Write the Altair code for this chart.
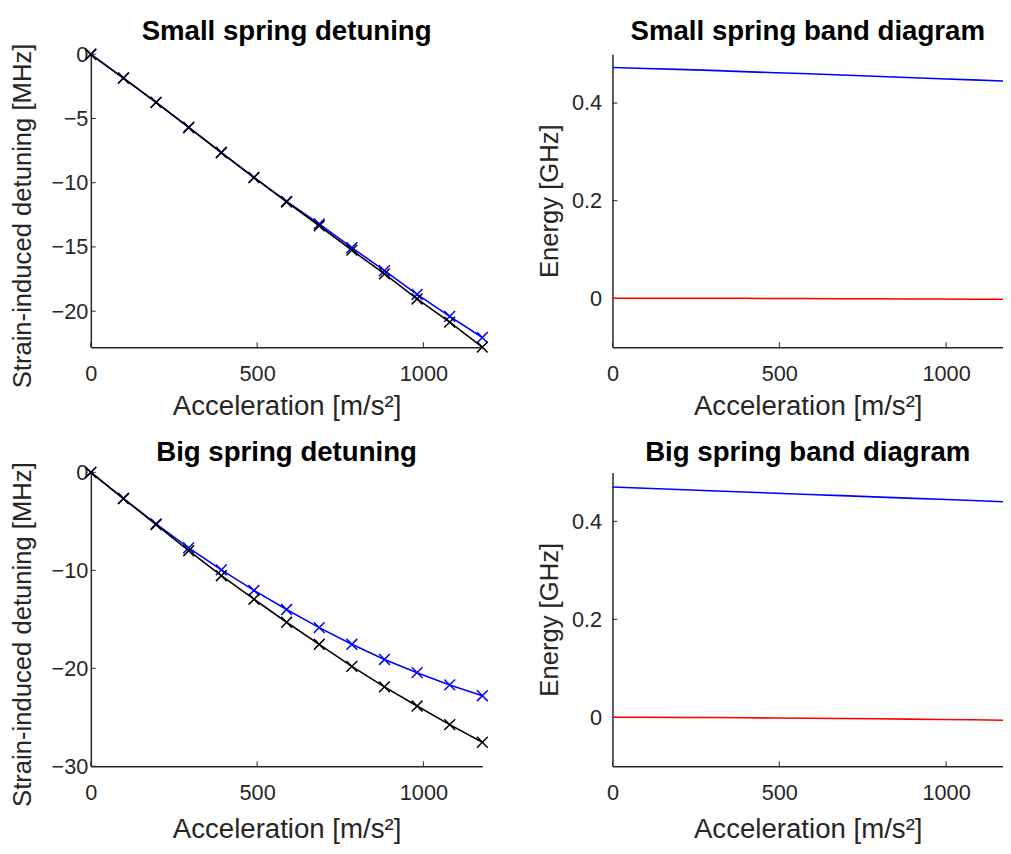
import altair as alt
import pandas as pd

# ---------------- data ----------------
accel = [0.0, 98.1, 196.2, 294.3, 392.4, 490.5, 588.6, 686.7, 784.8, 882.9, 981.0, 1079.1, 1177.2]

small_blue = [0.0, -1.85, -3.75, -5.7, -7.65, -9.58, -11.45, -13.2, -15.05, -16.85, -18.7, -20.4, -22.05]
small_black = [0.0, -1.85, -3.75, -5.7, -7.65, -9.6, -11.5, -13.35, -15.25, -17.1, -19.05, -20.85, -22.8]
big_blue = [0.0, -2.67, -5.25, -7.7, -9.95, -12.05, -14.0, -15.85, -17.55, -19.1, -20.45, -21.7, -22.8]
big_black = [0.0, -2.67, -5.33, -8.0, -10.55, -12.95, -15.3, -17.55, -19.8, -21.9, -23.85, -25.75, -27.55]

small_upper = [0.473, 0.471, 0.469, 0.467, 0.4645, 0.462, 0.460, 0.4575, 0.455, 0.4525, 0.450, 0.4475, 0.445]
small_lower = [0.0, 0.0, 0.0, 0.0, 0.0, -0.0003, -0.0005, -0.0007, -0.001, -0.0012, -0.0015, -0.0018, -0.002]
big_upper = [0.470, 0.4675, 0.465, 0.4625, 0.460, 0.4575, 0.455, 0.4525, 0.450, 0.4475, 0.445, 0.4425, 0.440]
big_lower = [0.0, -0.0001, -0.0003, -0.0006, -0.001, -0.0014, -0.0019, -0.0025, -0.0031, -0.0038, -0.0045, -0.0052, -0.006]

x_ticks = [0, 500, 1000]
small_y_ticks = [-20, -15, -10, -5, 0]
big_y_ticks = [-30, -20, -10, 0]
band_y_ticks = [0, 0.2, 0.4]

FONT = "Liberation Sans"
AXC = "#262626"
XPATH = "M-1,-1L1,1M-1,1L1,-1"
W_L, W_R = 397, 396
H_T, H_B = 297, 298


def panel(title, series, ydomain, yticks, ytitle, xmax, width, height,
          markers, ylabpad, ytitlex, ytitle_y, title_dy, xtitle_y):
    xs = alt.Scale(domain=[0, xmax], nice=False, zero=False)
    ys = alt.Scale(domain=ydomain, nice=False, zero=False)
    yax = alt.Axis(values=yticks, title=ytitle, labelPadding=ylabpad, format="~f",
                   titleBaseline="alphabetic", titleX=ytitlex, titleY=ytitle_y,
                   titleFontSize=26)
    xax = alt.Axis(values=x_ticks, title="Acceleration [m/s²]", labelPadding=17, format="~f",
                   titleBaseline="alphabetic", titleY=xtitle_y, titleFontSize=28)
    layers = []
    for vals, col in series:
        df = pd.DataFrame({"a": accel, "v": vals})
        base = alt.Chart(df).encode(
            x=alt.X("a:Q", scale=xs, axis=xax),
            y=alt.Y("v:Q", scale=ys, axis=yax),
        )
        layers.append(base.mark_line(color=col, strokeWidth=1.6, clip=not markers))
        if markers:
            layers.append(base.mark_point(shape=XPATH, size=120, filled=False,
                                          color=col, strokeWidth=1.5, opacity=1))
    # inward tick marks (MATLAB style)
    ty = alt.Chart(pd.DataFrame({"v": yticks})).mark_rule(color=AXC, strokeWidth=1).encode(
        y=alt.Y("v:Q", scale=ys, axis=yax), x=alt.value(0), x2=alt.value(5))
    tx = alt.Chart(pd.DataFrame({"a": x_ticks})).mark_rule(color=AXC, strokeWidth=1).encode(
        x=alt.X("a:Q", scale=xs, axis=xax), y=alt.value(height), y2=alt.value(height - 5))
    ttl = alt.Chart(pd.DataFrame({"t": [title]})).mark_text(
        font=FONT, fontSize=28, fontWeight="bold", color="#000000",
        align="center", baseline="alphabetic"
    ).encode(text="t:N", x=alt.value(width / 2), y=alt.value(title_dy))
    return alt.layer(ty, tx, *layers, ttl).properties(width=width, height=height)


tl = panel("Small spring detuning", [(small_blue, "#0000ff"), (small_black, "#000000")],
           [-22.8, 0], small_y_ticks, "Strain-induced detuning [MHz]", 1177.2, W_L, H_T, True,
           3, -61, H_T / 2 + 15, -14, 68)
tr = panel("Small spring band diagram", [(small_upper, "#0000ff"), (small_lower, "#ff0000")],
           [-0.1, 0.5], band_y_ticks, "Energy [GHz]", 1170.5, W_R, H_T, False,
           11, -56, H_T / 2, -14, 68)
bl = panel("Big spring detuning", [(big_blue, "#0000ff"), (big_black, "#000000")],
           [-30, 0], big_y_ticks, "Strain-induced detuning [MHz]", 1177.2, W_L, H_B, True,
           3, -61, H_B / 2 + 15, -12, 72)
br = panel("Big spring band diagram", [(big_upper, "#0000ff"), (big_lower, "#ff0000")],
           [-0.1, 0.5], band_y_ticks, "Energy [GHz]", 1170.5, W_R, H_B, False,
           11, -56, H_B / 2, -12, 72)

chart = alt.concat(tl, tr, bl, br, columns=2, spacing={"row": 127, "column": 132},
                   bounds="flush").properties(
    padding={"left": 1, "top": 5, "right": 0, "bottom": 0}
).configure_view(stroke=None).configure_axis(
    domainColor=AXC, domainWidth=1.5, labelColor=AXC, titleColor=AXC,
    labelFont=FONT, titleFont=FONT, labelFontSize=22,
    titleFontWeight="normal", grid=False, ticks=False, tickSize=0,
    labelFlush=False, labelOverlap=False,
)

chart.save("out.html", embed_options={"renderer": "svg", "actions": False})
